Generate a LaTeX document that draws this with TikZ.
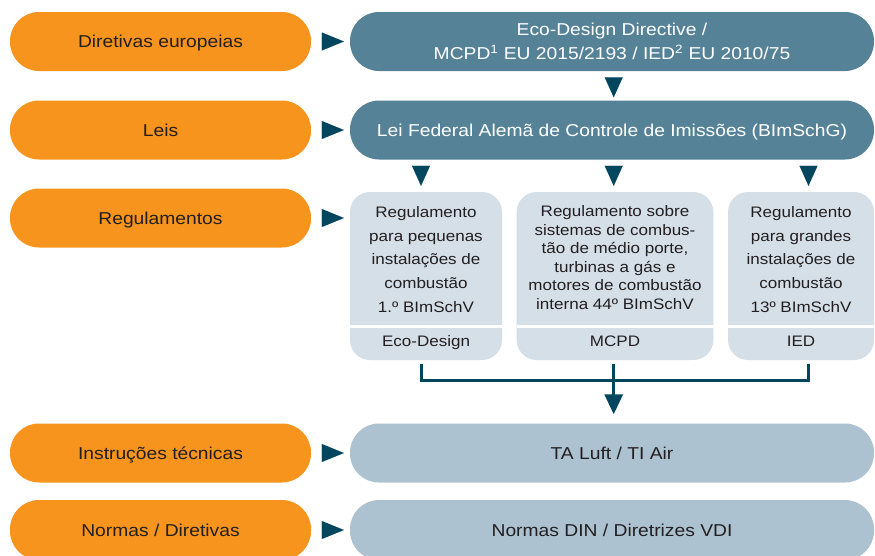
\documentclass[tikz,border=0pt]{standalone}
\usepackage{fontspec}
\setmainfont{Liberation Sans}[FakeStretch=1.12]
\usetikzlibrary{arrows.meta}
\definecolor{orangec}{HTML}{F7941D}
\definecolor{tealc}{HTML}{568297}
\definecolor{arrowc}{HTML}{00465E}
\definecolor{regc}{HTML}{D5DFE7}
\definecolor{lightc}{HTML}{ACC2D0}
\definecolor{textc}{HTML}{231F20}
\newcommand{\fsmain}{\fontsize{17.2}{24}\selectfont}
\newcommand{\fsreg}{\fontsize{15.2}{23.85}\selectfont}
\newcommand{\fsregb}{\fontsize{15.2}{18.5}\selectfont}
\tikzset{
  pill/.style={fill=orangec, rounded corners=29pt, minimum width=301pt, minimum height=59pt,
    inner sep=0pt, text=textc, font=\fsmain, text height=12.3pt, text depth=0pt},
  bigbox/.style={rounded corners=29pt, minimum width=524pt, minimum height=59pt,
    inner sep=0pt, font=\fsmain, align=center},
  darkbox/.style={bigbox, fill=tealc, text=white},
  lightbox/.style={bigbox, fill=lightc, text=textc, text height=12.3pt, text depth=0pt},
  regbox/.style={fill=regc, rounded corners=20pt, minimum height=168pt, inner sep=0pt},
  regtext/.style={inner sep=0pt, align=center, text=textc, font=\fsreg},
  reglabel/.style={inner sep=0pt, anchor=base, text=textc, font=\fsreg},
  divider/.style={draw=white, line width=3pt},
  rtri/.style={draw=arrowc, line width=0.01pt, -{Triangle[length=22pt,width=18pt]},
    shorten <=11pt, shorten >=6pt},
  dtri/.style={draw=arrowc, line width=0.01pt, -{Triangle[length=20pt,width=18pt]}},
  conn/.style={draw=arrowc, line width=3pt}
}
\begin{document}
\begin{tikzpicture}[x=1pt,y=-1pt]
\clip (0,0) rectangle (875,555);
\fill[white] (0,0) rectangle (875,555);
% left column
\node[pill] (o1) at (160.5,41.5) {Diretivas europeias};
\node[pill] (o2) at (160.5,130) {Leis};
\node[pill] (o3) at (160.5,218) {Regulamentos};
\node[pill] (o4) at (160.5,453) {Instruções técnicas};
\node[pill, minimum height=60pt] (o5) at (160.5,530) {Normas / Diretivas};
% right column
\node[darkbox] (b1) at (612,41.5) {Eco-Design Directive /\\MCPD\textsuperscript{1} EU 2015/2193 / IED\textsuperscript{2} EU 2010/75};
\node[darkbox, text height=12.3pt, text depth=0pt] (b2) at (612,130) {Lei Federal Alemã de Controle de Imissões (BImSchG)};
\node[regbox, minimum width=152pt] (rA) at (426,276) {};
\node[regbox, minimum width=196.6pt] (rB) at (615,276) {};
\node[regbox, minimum width=146pt] (rC) at (801,276) {};
\coordinate (dv) at (0,326);
\coordinate (lb) at (0,346);
\draw[divider] (rA.west |- dv) -- (rA.east |- dv);
\draw[divider] (rB.west |- dv) -- (rB.east |- dv);
\draw[divider] (rC.west |- dv) -- (rC.east |- dv);
\node[regtext] (tA) at (426,259.5) {Regulamento\\para pequenas\\instalações de\\combustão\\1.º BImSchV};
\node[regtext, font=\fsregb] (tB) at (615,257.5) {Regulamento sobre\\sistemas de combus-\\tão de médio porte,\\turbinas a gás e\\motores de combustão\\interna 44º BImSchV};
\node[regtext] (tC) at (801,259.5) {Regulamento\\para grandes\\instalações de\\combustão\\13º BImSchV};
\node[reglabel] (lA) at (rA.center |- lb) {Eco-Design};
\node[reglabel] (lB) at (rB.center |- lb) {MCPD};
\node[reglabel] (lC) at (rC.center |- lb) {IED};
\node[lightbox] (b4) at (612,453) {TA Luft / TI Air};
\node[lightbox, minimum height=60pt] (b5) at (612,530) {Normas DIN / Diretrizes VDI};
% right-pointing triangles
\draw[rtri] (o1.east) -- (b1.west |- o1.east);
\draw[rtri] (o2.east) -- (b2.west |- o2.east);
\draw[rtri] (o3.east) -- (rA.west |- o3.east);
\draw[rtri] (o4.east) -- (b4.west |- o4.east);
\draw[rtri] (o5.east) -- (b5.west |- o5.east);
% down arrows
\coordinate (xA) at (421,0);
\coordinate (xB) at (613.7,0);
\coordinate (xC) at (808.5,0);
\draw[dtri, shorten <=6pt, shorten >=3pt] (b1.south -| xB) -- (b2.north -| xB);
\draw[dtri, shorten <=6pt, shorten >=6pt] (b2.south -| xA) -- (rA.north -| xA);
\draw[dtri, shorten <=6pt, shorten >=6pt] (b2.south -| xB) -- (rB.north -| xB);
\draw[dtri, shorten <=6pt, shorten >=6pt] (b2.south -| xC) -- (rC.north -| xC);
% bottom connector
\coordinate (jB) at (613.7,380.7);
\draw[conn, shorten <=4pt, shorten >=4pt] (rA.south -| xA) |- (jB) -| (rC.south -| xC);
\draw[conn, -{Triangle[length=20pt,width=18pt]}, shorten <=4pt, shorten >=9pt] (rB.south -| xB) -- (b4.north -| xB);
\end{tikzpicture}
\end{document}
